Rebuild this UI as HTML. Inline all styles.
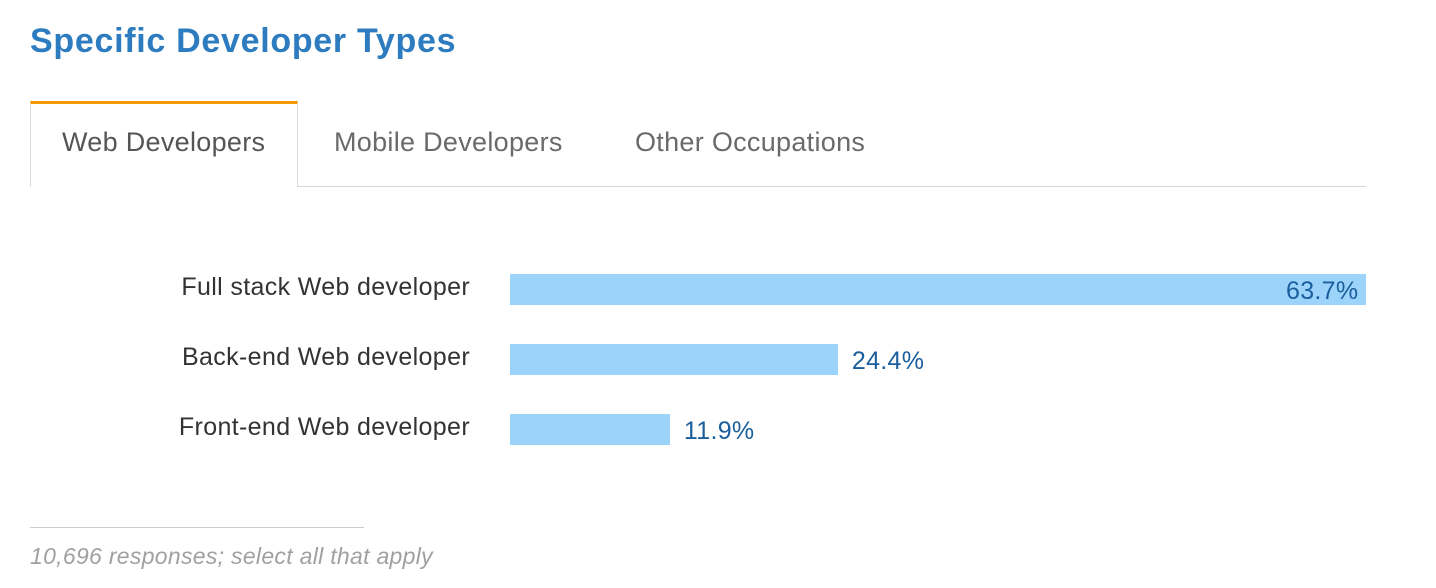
<!DOCTYPE html>
<html><head><meta charset="utf-8">
<style>
body{margin:0;width:1436px;height:588px;background:#fff;font-family:"Liberation Sans",sans-serif;position:relative;overflow:hidden}
.abs{position:absolute;white-space:nowrap}
#title{left:30px;top:22px;font-size:34px;font-weight:bold;color:#2d7cc0;letter-spacing:0.7px}
.tab{top:127px;font-size:27px;color:#6a6a6a;letter-spacing:0.3px}
#tab-active{left:30px;top:101px;width:268px;height:86px;border-top:3px solid #f59b00;border-left:1px solid #ddd;border-right:1px solid #ddd;background:#fff;box-sizing:border-box}
#tabline{left:297px;top:186px;width:1069px;height:1px;background:#d6d6d6}
.lbl{font-size:25px;color:#333;text-align:right;width:320px;left:150px;letter-spacing:0.35px}
.val{font-size:25px;color:#1a5e9c;letter-spacing:0.3px}
.bar{background:#9bd3fb;height:31px}
#foot-line{left:30px;top:527px;width:334px;height:1px;background:#ccc}
#foot{left:30px;top:543px;font-size:23px;font-style:italic;color:#a0a0a0;letter-spacing:0.3px}
</style></head><body>
<div id="title" class="abs">Specific Developer Types</div>
<div id="tab-active" class="abs"></div>
<div class="abs tab" style="left:62px;color:#555">Web Developers</div>
<div class="abs tab" style="left:334px">Mobile Developers</div>
<div class="abs tab" style="left:635px">Other Occupations</div>
<div id="tabline" class="abs"></div>
<div id="chart"></div>
<div id="foot-line" class="abs"></div>
<div id="foot" class="abs">10,696 responses; select all that apply</div>
<script>
const categories=["Full stack Web developer","Back-end Web developer","Front-end Web developer"];
const values=[63.7,24.4,11.9];
const x0=510, maxVal=63.7, maxW=856;
function xs(v){return v/maxVal*maxW;}
const chart=document.getElementById('chart');
categories.forEach((c,i)=>{
  const y=274+i*70;
  const l=document.createElement('div');
  l.className='abs lbl';l.style.top=(y-1)+'px';l.textContent=c;
  
  
  chart.appendChild(l);
  const b=document.createElement('div');
  const w=xs(values[i]);
  b.className='abs bar';b.style.left=x0+'px';b.style.top=y+'px';b.style.width=w+'px';
  
  
  chart.appendChild(b);
  const v=document.createElement('div');
  v.className='abs val';v.textContent=values[i].toFixed(1)+'%';
  v.style.top=(y+3)+'px';
  if(w>600){v.style.left=(x0+w-80)+'px';}else{v.style.left=(x0+w+14)+'px';}
  
  
  chart.appendChild(v);
});
</script>
</body></html>
